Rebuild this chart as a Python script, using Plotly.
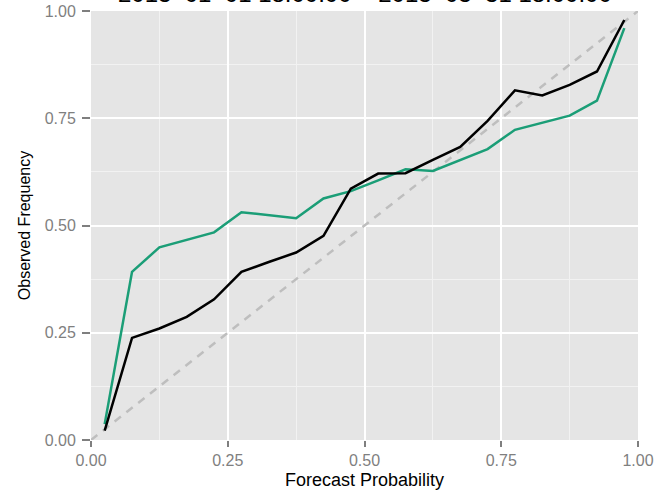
import plotly.graph_objects as go

# Reliability diagram: observed frequency per forecast-probability bin
bin_centers = [0.025, 0.075, 0.125, 0.175, 0.225, 0.275, 0.325, 0.375, 0.425, 0.475,
               0.525, 0.575, 0.625, 0.675, 0.725, 0.775, 0.825, 0.875, 0.925, 0.975]
obs_freq_green = [0.037, 0.392, 0.449, 0.466, 0.484, 0.531, 0.524, 0.517, 0.563, 0.580,
                  0.605, 0.631, 0.627, 0.653, 0.678, 0.723, 0.739, 0.756, 0.791, 0.960]
obs_freq_black = [0.022, 0.238, 0.260, 0.287, 0.328, 0.392, 0.415, 0.437, 0.476, 0.586,
                  0.621, 0.622, 0.653, 0.683, 0.744, 0.815, 0.803, 0.828, 0.859, 0.979]
diag = [0.0, 1.0]
tick_vals = [0.0, 0.25, 0.5, 0.75, 1.0]
tick_text = ["0.00", "0.25", "0.50", "0.75", "1.00"]
title_text = "2013–01–01 18:00:00 – 2013–03–31 18:00:00"

FONT = "Liberation Sans, Arial, sans-serif"

fig = go.Figure()
fig.add_trace(go.Scatter(x=diag, y=diag, mode="lines",
                         line=dict(color="#BEBEBE", width=2.5, dash="8px,7px"),
                         hoverinfo="skip", name="perfect"))
fig.add_trace(go.Scatter(x=bin_centers, y=obs_freq_green, mode="lines",
                         line=dict(color="#1B9E77", width=2.5), name="forecast 1"))
fig.add_trace(go.Scatter(x=bin_centers, y=obs_freq_black, mode="lines",
                         line=dict(color="#000000", width=2.5), name="forecast 2"))

axis_common = dict(
    range=[0, 1], tickvals=tick_vals, ticktext=tick_text,
    showgrid=True, gridcolor="#FFFFFF", gridwidth=2,
    minor=dict(tick0=0.125, dtick=0.25, showgrid=True, gridcolor="#F2F2F2", gridwidth=1,
               ticks=""),
    ticks="outside", tickwidth=2, tickcolor="#7F7F7F",
    tickfont=dict(family=FONT, size=16, color="#7F7F7F"),
    zeroline=False, showline=False, fixedrange=True, automargin=False,
)

fig.update_layout(
    width=670, height=490,
    margin=dict(l=91, r=32, t=11, b=50),
    paper_bgcolor="#FFFFFF", plot_bgcolor="#E5E5E5",
    showlegend=False,
    xaxis=dict(**axis_common, ticklen=6,
               title=dict(text="Forecast Probability", standoff=5,
                          font=dict(family=FONT, size=18, color="#000000"))),
    yaxis=dict(**axis_common, ticklen=8, ticklabelstandoff=3,
               title=dict(text="Observed Frequency", standoff=10,
                          font=dict(family=FONT, size=16, color="#000000"))),
    annotations=[dict(text=title_text, xref="paper", yref="paper",
                      x=0.5, y=1.0 + 2 / 429, xanchor="center", yanchor="bottom",
                      showarrow=False,
                      font=dict(family=FONT, size=24, color="#000000"))],
)

fig.write_html("out.html")
